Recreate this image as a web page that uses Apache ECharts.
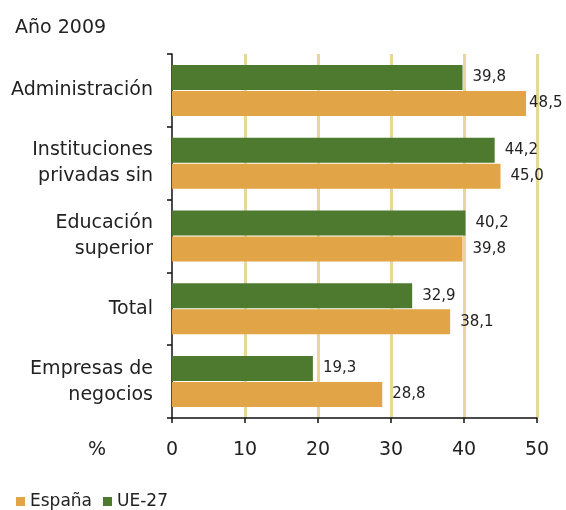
<!DOCTYPE html>
<html>
<head>
<meta charset="utf-8">
<script src="https://cdn.jsdelivr.net/npm/echarts@6/dist/echarts.min.js"></script>
<style>
html,body{margin:0;padding:0;background:#fff;}
#chart{width:566px;height:510px;}
</style>
</head>
<body>
<div id="chart"></div>
<script>
const categories = ['Administración', 'Instituciones\nprivadas sin', 'Educación\nsuperior', 'Total', 'Empresas de\nnegocios'];
const espana = [48.5, 45.0, 39.8, 38.1, 28.8];
const ue27 = [39.8, 44.2, 40.2, 32.9, 19.3];
const xTicks = [0, 10, 20, 30, 40, 50];
const seriesNames = ['España', 'UE-27'];

const FONT = 'DejaVu Sans';
const chart = echarts.init(document.getElementById('chart'), null, {renderer: 'canvas'});

function fmt(v) { return v.toFixed(1).replace('.', ','); }
function mkData(arr) {
  return arr.map(v => v > 47 ? {value: v, label: {distance: 3}} : v);
}

const option = {
  animation: false,
  backgroundColor: '#ffffff',
  textStyle: {fontFamily: FONT},
  title: {
    text: 'Año 2009', left: 10, top: 14,
    textStyle: {fontFamily: FONT, fontSize: 19, fontWeight: 'normal', color: '#222'}
  },
  legend: {
    data: seriesNames, left: 11, top: 488, itemWidth: 9, itemHeight: 9, itemGap: 11,
    icon: 'rect',
    textStyle: {fontFamily: FONT, fontSize: 17, color: '#222'}
  },
  graphic: [{
    type: 'text', left: 88, top: 441,
    style: {text: '%', font: '19px "DejaVu Sans"', fill: '#222'}
  }],
  grid: {left: 172, right: 29, top: 54, bottom: 92, containLabel: false},
  xAxis: {
    type: 'value', min: xTicks[0], max: xTicks[xTicks.length - 1], interval: 10,
    axisLine: {show: true, lineStyle: {color: '#111', width: 1.5}},
    axisTick: {show: true, length: 5, lineStyle: {color: '#111', width: 1.5}},
    axisLabel: {margin: 23, fontFamily: FONT, fontSize: 19, color: '#222'},
    splitLine: {show: true, showMinLine: false, lineStyle: {color: '#e8d79b', width: 3}}
  },
  yAxis: {
    type: 'category', data: categories, inverse: true,
    axisLine: {show: true, lineStyle: {color: '#111', width: 1.5}},
    axisTick: {show: true, length: 5, lineStyle: {color: '#111', width: 1.5}},
    axisLabel: {margin: 19, fontFamily: FONT, fontSize: 19, color: '#222', lineHeight: 26, align: 'right'}
  },
  series: [
    {
      name: seriesNames[1], type: 'bar', data: mkData(ue27), barWidth: 25, barGap: '4%',
      itemStyle: {color: '#4e7a2f'},
      label: {show: true, position: 'right', distance: 10, formatter: p => fmt(p.value),
        fontFamily: FONT, fontSize: 15, color: '#222'}
    },
    {
      name: seriesNames[0], type: 'bar', data: mkData(espana), barWidth: 25, barGap: '4%',
      itemStyle: {color: '#e1a446'},
      label: {show: true, position: 'right', distance: 10, formatter: p => fmt(p.value),
        fontFamily: FONT, fontSize: 15, color: '#222'}
    }
  ]
};
chart.setOption(option);
</script>
</body>
</html>
